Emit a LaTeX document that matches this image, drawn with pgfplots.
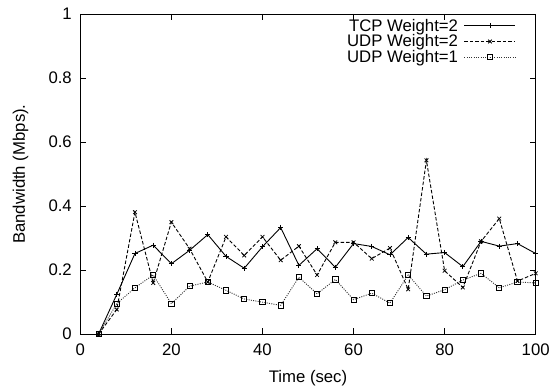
\documentclass[border=0pt]{standalone}
\usepackage{fontspec}
\setmainfont{Liberation Sans}
\usepackage{pgfplots}
\pgfplotsset{compat=1.18}

\pgfplotstableread{
t    tcp    udpa   udpb
4    0.000  0.000  0.000
8    0.124  0.077  0.095
12   0.252  0.381  0.145
16   0.278  0.160  0.185
20   0.220  0.350  0.095
24   0.262  0.267  0.150
28   0.311  0.163  0.163
32   0.243  0.304  0.137
36   0.206  0.246  0.110
40   0.273  0.304  0.100
44   0.333  0.231  0.090
48   0.215  0.275  0.178
52   0.267  0.185  0.126
56   0.209  0.287  0.171
60   0.283  0.287  0.108
64   0.274  0.236  0.128
68   0.248  0.269  0.097
72   0.302  0.140  0.185
76   0.250  0.543  0.119
80   0.255  0.198  0.139
84   0.211  0.146  0.169
88   0.290  0.290  0.190
92   0.275  0.361  0.145
96   0.283  0.166  0.163
100  0.252  0.190  0.160
}\bwdata

\begin{document}
\begin{tikzpicture}[font=\fontsize{16.8}{20}\selectfont]
\begin{axis}[
  scale only axis,
  width=455.4bp, height=320.2bp,
  xmin=0, xmax=100, ymin=0, ymax=1,
  xtick={0,20,...,100},
  ytick={0,0.2,0.4,0.6,0.8,1},
  tick align=inside,
  major tick length=6bp,
  tick style={black, line width=0.8bp},
  axis line style={line width=0.9bp},
  /pgf/number format/assume math mode=true,
  xticklabel style={yshift=-6bp},
  yticklabel style={xshift=-5bp},
  xlabel={Time (sec)},
  ylabel={Bandwidth (Mbps).},
  xlabel style={at={(axis description cs:0.5,-0.136)}, anchor=center},
  ylabel style={at={(axis description cs:-0.131,0.5)}, anchor=center},
  legend plot pos=right,
  legend cell align=right,
  legend style={draw=none, fill=none, inner sep=0pt, row sep=0pt,
    column sep=5bp, nodes={inner sep=1bp},
    at={(axis description cs:0.957,0.988)}, anchor=north east},
  legend image code/.code={
    \draw[mark repeat=2,mark phase=2]
      plot coordinates {(0bp,0bp) (25.5bp,0bp) (51bp,0bp)};},
]
\addplot[black, line width=0.9bp, mark=+, mark size=2.6bp,
  mark options={solid, line width=0.8bp}]
  table[x=t, y=tcp] {\bwdata};
\addlegendentry{TCP Weight=2}
\addplot[black, line width=0.9bp, dash pattern=on 3.5bp off 2bp,
  mark=x, mark size=2.6bp, mark options={solid, line width=0.8bp}]
  table[x=t, y=udpa] {\bwdata};
\addlegendentry{UDP Weight=2}
\addplot[black!80, line width=0.9bp, dash pattern=on 1bp off 1.3bp,
  mark=square, mark size=2.6bp, mark options={solid, black, line width=0.8bp}]
  table[x=t, y=udpb] {\bwdata};
\addlegendentry{UDP Weight=1}
\end{axis}
\pgfresetboundingbox
\useasboundingbox (-80.3bp,-52.8bp) rectangle (469.7bp,334.2bp);
\end{tikzpicture}
\end{document}
